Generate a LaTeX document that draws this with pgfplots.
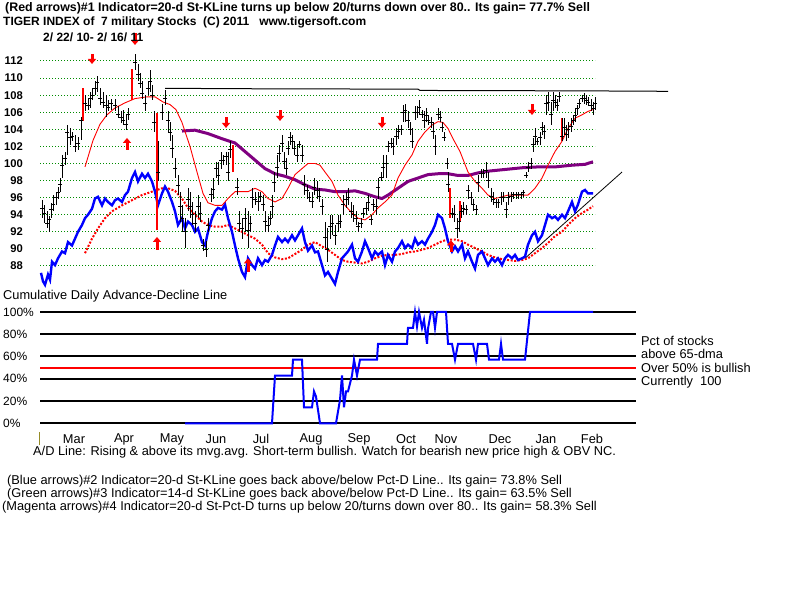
\documentclass[border=0pt]{standalone}
\usepackage{fontspec}
\setmainfont{Liberation Sans}
\usepackage{pgfplots}
\pgfplotsset{compat=1.18}
\usepackage{pgfplotstable}
\usetikzlibrary{arrows.meta}
\definecolor{gridgreen}{RGB}{0,140,0}
\definecolor{purp}{RGB}{128,0,128}
\definecolor{bblue}{RGB}{0,0,255}
\definecolor{olivet}{RGB}{150,140,40}

% price bars: pixel x, low, high, close
\pgfplotstableread{
x l h c
42 93.6 95.7 94.7
44 93.0 95.1 94.2
47 92.4 94.4 93.0
49 92.0 93.9 93.4
51 93.6 95.4 94.6
53 94.4 96.3 95.2
56 95.1 96.7 96.0
58 95.9 97.3 96.6
60 96.7 98.3 97.6
62 98.3 101.0 99.8
65 99.8 101.4 100.6
67 101.0 104.5 103.6
70 102.2 104.1 103.0
72 102.6 103.7 103.2
75 101.4 103.3 102.0
78 101.6 103.1 102.4
81 102.8 105.5 105.0
85 106.1 108.0 107.0
88 106.3 107.6 106.8
90 106.5 108.4 107.6
92 107.4 108.8 108.0
95 108.0 109.6 108.8
97 108.4 110.3 109.5
100 106.8 108.8 107.6
103 106.5 108.4 107.2
106 105.5 108.0 106.8
108 106.1 107.4 106.6
111 106.3 107.6 107.0
115 106.1 107.6 106.8
118 105.3 106.7 105.8
121 104.7 106.1 105.4
123 104.5 106.3 105.0
126 103.9 105.7 104.6
128 105.1 106.5 105.8
135 110.9 112.8 111.8
138 109.6 111.7 110.4
140 108.8 110.6 109.4
142 107.6 109.6 108.2
145 106.1 108.0 107.0
148 108.0 109.6 108.8
150 108.4 110.9 109.6
152 107.4 109.2 108.0
154 103.7 106.1 104.8
158 97.9 102.6 99.0
162 105.1 107.0 106.0
165 106.8 108.6 107.6
168 103.7 106.1 105.0
170 102.6 104.9 103.6
172 100.6 103.3 101.8
175 98.3 100.6 99.4
178 96.3 98.7 97.4
180 93.2 96.7 95.0
182 92.0 95.1 93.6
185 90.1 93.6 92.0
188 94.4 97.1 95.8
190 93.6 96.7 95.0
192 92.8 95.5 94.0
195 92.0 94.4 93.0
198 93.6 96.3 95.0
200 93.2 95.5 94.2
203 89.7 91.2 90.4
206 89.1 90.9 90.0
208 92.0 93.6 92.8
211 95.5 97.1 96.4
213 95.9 98.3 97.0
216 98.3 100.2 99.4
218 97.5 100.2 98.6
221 99.4 101.4 100.4
223 99.8 101.0 100.4
226 99.8 101.4 100.8
228 97.9 101.4 99.0
230 100.6 102.6 101.6
237 96.3 98.3 97.2
239 92.0 94.4 93.0
242 91.2 93.6 92.4
245 92.0 94.8 93.6
248 90.1 94.4 92.2
250 92.0 93.9 93.0
252 94.8 97.1 96.0
255 95.1 96.7 95.8
258 94.4 96.7 95.6
260 95.5 96.7 96.2
263 94.4 96.3 95.2
265 92.0 94.4 93.2
268 92.0 93.9 92.8
270 92.8 94.4 93.6
272 93.6 96.3 95.0
274 96.7 99.0 97.8
277 98.3 101.0 99.6
279 100.2 102.2 101.2
282 101.4 103.3 102.4
284 99.4 101.4 100.2
286 98.7 100.6 99.4
288 101.0 102.6 101.8
290 102.2 103.7 103.0
292 101.8 103.3 102.6
294 101.0 102.6 101.8
297 100.2 102.2 101.0
299 101.8 102.6 102.2
302 100.2 102.2 101.0
304 96.3 98.7 97.6
307 95.9 97.5 96.8
309 95.5 96.7 96.0
312 94.8 96.7 95.6
314 96.3 98.3 97.2
317 95.9 97.9 96.8
319 95.5 97.1 96.2
322 94.0 95.9 95.0
325 90.1 93.2 91.4
327 88.5 92.4 90.0
330 91.2 94.0 92.6
332 91.6 94.0 93.0
335 90.5 92.8 91.6
338 92.0 94.0 93.0
340 92.4 94.0 93.2
343 94.0 96.3 95.2
346 94.8 96.7 95.8
348 95.1 97.1 96.0
351 93.6 95.5 94.4
353 93.2 95.1 94.0
356 92.8 94.4 93.6
358 92.0 93.2 92.6
361 92.4 93.6 93.0
363 93.6 94.8 94.2
366 94.0 95.5 94.8
368 94.4 96.3 95.4
371 92.8 94.0 93.4
373 94.4 95.9 95.2
376 94.0 95.9 95.0
378 95.9 98.3 97.2
381 97.9 99.0 98.4
383 98.3 101.0 99.6
386 98.3 101.0 100.0
388 101.4 102.6 102.0
391 101.8 103.0 102.4
393 101.0 103.0 102.0
396 102.2 104.1 103.2
398 102.9 104.5 103.8
401 103.3 104.5 104.0
403 104.9 106.9 106.0
405 104.9 107.0 106.2
408 104.1 106.1 105.0
410 103.3 104.9 104.0
412 101.8 104.1 102.6
415 105.1 106.7 106.0
417 105.3 106.7 106.0
419 105.7 107.4 106.6
422 105.3 106.3 105.8
424 104.1 106.1 105.0
426 104.9 106.5 105.6
428 104.5 105.7 105.0
431 104.1 105.5 104.8
433 102.9 104.9 103.8
435 101.0 103.3 102.0
438 105.1 106.5 105.8
440 104.9 106.1 105.4
442 103.7 104.9 104.2
444 102.6 103.7 103.0
447 99.4 100.6 100.0
448 96.7 99.0 97.6
452 93.6 94.8 94.2
454 93.2 95.1 94.0
457 91.3 93.6 92.4
459 92.0 94.4 93.2
461 93.6 95.1 94.4
463 94.0 95.5 94.8
466 94.0 95.1 94.6
468 95.9 97.5 96.8
471 95.1 96.7 96.0
473 94.4 95.9 95.2
476 94.0 95.1 94.6
478 96.7 98.7 97.8
481 98.3 99.4 98.8
483 98.3 99.4 98.8
486 98.3 100.2 99.2
488 97.1 99.0 98.0
491 95.5 97.1 96.2
493 95.1 96.7 95.8
496 94.8 95.9 95.4
498 94.8 95.9 95.4
501 95.1 96.7 96.0
503 95.5 96.7 96.0
506 93.6 95.5 94.6
508 95.1 96.7 96.0
511 95.5 96.7 96.2
513 95.9 96.7 96.4
516 95.9 96.7 96.4
518 95.9 96.7 96.4
521 95.9 96.7 96.4
523 96.1 96.9 96.6
526 98.3 99.0 98.6
528 99.0 100.2 99.6
531 99.4 100.6 100.0
533 101.4 103.0 102.2
535 102.2 104.1 103.2
537 102.2 103.0 102.6
540 102.2 103.7 103.0
542 103.3 104.9 104.2
544 102.9 104.5 103.8
546 105.7 108.0 107.0
548 106.1 108.4 107.2
551 104.5 107.2 105.8
553 106.1 108.4 107.4
555 106.5 108.0 107.2
557 106.1 107.6 106.8
559 107.2 108.4 107.8
562 102.6 105.3 103.2
564 103.3 105.3 104.2
566 102.6 104.5 103.4
568 103.0 104.9 104.0
571 103.7 105.3 104.4
573 104.5 105.7 105.0
575 104.9 106.5 105.6
577 105.7 106.9 106.4
579 106.5 107.6 107.0
582 107.2 108.0 107.6
584 107.0 108.2 107.6
586 106.8 108.0 107.4
588 106.7 107.8 107.2
591 106.1 107.6 106.8
593 105.7 107.2 106.4
595 106.3 107.8 107.0
}\bars

\pgfplotstableread{
x y
85 99.6
93 102.7
100 104.6
107 105.7
115 106.5
125 107.1
135 107.6
147 107.8
155 107.8
163 107.2
170 106.9
176 106.3
182 104.8
190 102
197 99
203 96.5
208 95.4
215 95.1
222 95.1
228 95.9
235 96.7
242 96.7
248 96.7
255 97.1
262 96.7
268 95.9
275 95.5
282 95.9
288 97.1
295 98.7
302 99.4
308 100
315 100
320 99.8
325 99
332 97.9
338 96.3
345 95.1
352 94.2
358 93.6
365 93.4
372 94
378 94.8
385 95.5
392 96.3
398 98.3
405 99.8
412 101
418 102.6
425 103.7
432 104.5
438 104.9
443 104.8
448 104.1
453 102.9
460 101.4
468 99
475 97.9
482 97.1
488 96.3
495 95.9
502 96.1
508 96.3
515 96.3
522 96.3
528 96.3
535 97.1
542 98.3
548 99.8
555 101.4
562 102.6
568 104.1
575 105.3
582 105.7
588 106.1
593 106.3
}\redma

\pgfplotstableread{
x y
182 103.8
195 103.9
208 103.5
222 102.9
235 102.4
245 101.4
255 100.4
265 99.4
275 98.8
285 98.5
295 98.1
305 97.5
315 97
325 96.9
335 96.7
345 96.7
355 96.8
365 96.5
375 96.1
382 95.9
388 96.3
398 97.1
408 97.9
418 98.3
428 98.7
438 98.8
448 98.8
458 98.6
468 98.6
478 98.9
488 99.1
505 99.3
522 99.5
538 99.6
555 99.6
572 99.8
585 99.9
593 100.2
}\purpma

\pgfplotstableread{
x y
41 87.2
43 86.2
45 85.8
48 87
50 86.4
52 88.5
55 88.1
58 88.9
62 89.7
65 89.5
68 90.8
72 90.4
75 91.2
78 92
82 92.8
85 93.6
88 94
92 94.7
95 95.9
98 96.1
102 95.1
105 95.9
108 95.5
112 95.1
115 95.7
118 95.9
122 95.5
125 96.3
128 96.7
132 98.3
135 99
138 97.9
142 98.8
145 98.3
148 98.8
152 97.9
155 96.7
158 95.1
162 96.5
165 97.3
168 96.7
172 95.5
175 94.4
178 92.8
182 93.6
185 92.4
188 93.2
192 92.8
195 92
198 92.4
202 90.8
205 90.4
208 92
212 93.6
215 94.4
218 94.8
222 94.6
225 95.2
228 93.6
232 92
235 90.4
238 88.9
242 87.3
245 86.7
248 88.9
252 88.1
255 87.7
258 88.9
262 88.1
265 88.7
268 88.5
272 89.3
275 90.4
278 91.4
282 90.8
285 91.2
288 90.8
292 91.6
295 91
298 91.6
302 92.4
305 90.8
308 89.8
312 90.4
315 89.6
318 89.7
322 88.1
325 86.9
328 87.3
332 86.5
335 85.9
338 87.3
342 88.9
345 89.3
348 89.7
352 90.5
355 88.9
358 88.5
362 89.7
365 90.9
368 90.1
372 88.9
375 89.7
378 89.3
382 89.7
385 88.1
388 89.3
392 88.5
395 89.7
398 90.1
402 90.9
405 90.1
408 90.5
412 90.1
415 91.2
418 90.5
422 90.9
425 90.5
428 91.2
432 92
435 92.8
438 94
442 93.6
445 92.4
448 90.9
452 89.7
455 90.3
458 89.7
462 90.5
465 88.9
468 89.7
472 88.5
475 87.7
478 89.3
482 89.7
485 88.9
488 88.1
492 88.9
495 88.5
498 88.9
502 88.1
505 88.9
508 89.3
512 88.9
515 89.3
518 88.7
522 88.9
525 89.1
528 90.5
532 91.6
535 92
538 90.9
542 91.6
545 92.8
548 94
552 93.6
555 93.8
558 93.4
562 94
565 93.6
568 94.4
572 95.5
575 94.4
578 95.2
582 96.7
585 96.9
588 96.5
593 96.5
}\blueline

\pgfplotstableread{
x y
85 89.5
92 91.2
98 92.4
105 93.6
112 94.4
122 95.1
132 95.7
142 96.3
152 96.7
162 97.1
168 97.1
175 96.8
182 95.9
188 94.8
195 94
202 93.2
208 92.8
215 92.6
222 92.6
228 92.8
235 92.4
242 92
248 91.6
255 91.2
262 90.5
268 89.5
275 89
282 88.8
288 88.9
295 89.4
302 89.9
308 90.5
315 90.8
322 90.3
328 89.9
335 89.3
342 88.7
348 88.5
355 88.4
362 88.3
368 88.5
375 88.9
382 89.2
388 89.3
395 89.3
402 89.4
408 89.6
415 89.7
422 89.9
428 90.1
435 90.5
442 90.9
448 91.1
455 91.1
462 90.9
468 90.5
475 90.1
482 89.7
488 89.3
495 89
502 88.8
508 88.7
515 88.6
522 88.7
528 88.9
535 89.5
542 90.1
548 90.7
555 91.5
562 92
568 92.8
575 93.6
582 94.2
588 94.6
593 95
}\reddot

% signal arrows: x, start, length (price units)
\pgfplotstableread{
x y v
92 112.82 -1.17
135 115.28 -1.41
226 105.44 -1.28
280 106.26 -1.28
382 105.44 -1.28
532 106.97 -1.29
127 101.58 1.41
157 89.9 1.5
248 87.3 1.6
451 89.6 1.4
}\arrowsred

\pgfplotstableread{
x y
185 0
272 0
275 42.9
292 42.9
293 57.1
302 57.1
304 14.3
312 14.3
314 28.6
316 24
320 0
336 0
340 21
342 42.9
344 14.3
346 28.6
348 28.6
352 42.9
354 57.1
357 42.9
360 57.1
377 57.1
378 71.4
407 71.4
408 85.7
413 85.7
415 100
417 87
419 100
422 85.7
424 93
427 71.4
428 85
431 100
433 100
435 85.7
437 100
446 100
448 71.4
452 71.4
455 57.1
458 71.4
473 71.4
476 57.1
478 71.4
487 71.4
489 57.1
499 57.1
501 71.4
503 57.1
525 57.1
530 100
593 100
}\adline

\begin{document}
\begin{tikzpicture}[x=1pt,y=1pt]
\useasboundingbox (0,0) rectangle (800,600);
\fill[white] (0,0) rectangle (800,600);
\pgfplotsset{base/.style={at={(0pt,0pt)}, anchor=south west, width=800pt, height=600pt,
  scale only axis, xmin=0, xmax=800, clip=false, axis line style={draw=none},
  xtick=\empty, major tick length=0pt, tick style={draw=none}}}

% ---------------- price panel ----------------
\begin{axis}[base, ymin=48.90, ymax=119.14, ytick={88,90,...,112},
  yticklabel style={anchor=east, inner sep=0pt, xshift=23pt, font=\bfseries\fontsize{11.2}{12}\selectfont},
  /pgf/number format/assume math mode=true]
\pgfplotsinvokeforeach{88,90,...,112}{
  \addplot[gridgreen, line width=1pt, dash pattern=on 1pt off 2pt, forget plot] coordinates {(40,#1) (595,#1)};
}
% resistance and trend lines
\addplot[black, line width=1pt] coordinates {(165,108.8) (250,108.75) (418,108.7) (420,108.55) (586,108.5) (668,108.45)};
\addplot[black, line width=0.8pt] coordinates {(525,88.9) (622,99.0)};
% moving averages
\addplot[purp, line width=3pt] table[x=x,y=y] {\purpma};
\addplot[red, line width=2pt, dash pattern=on 2pt off 1.6pt] table[x=x,y=y] {\reddot};
\addplot[bblue, line width=2.4pt] table[x=x,y=y] {\blueline};
\addplot[red, line width=0.9pt] table[x=x,y=y] {\redma};
% red signal bars
\addplot[red, line width=1.2pt] coordinates {(83,105) (83,108.8)};
\addplot[red, line width=1.2pt] coordinates {(132,107.4) (132,111.1)};
\addplot[red, line width=1.2pt] coordinates {(157,92.2) (157,105.9)};
\addplot[red, line width=1.2pt] coordinates {(233,99) (233,102.2)};
\addplot[red, line width=1.2pt] coordinates {(450,93.6) (450,97.1)};
\addplot[red, line width=1.2pt] coordinates {(460,93.2) (460,95.6)};
\addplot[red, line width=1.2pt] coordinates {(562,102.6) (562,105.3)};
% price bars
\addplot[black, only marks, mark=-, mark size=2pt, mark options={line width=0.8pt},
  error bars/.cd, y dir=both, y explicit, error mark=none,
  error bar style={line width=1pt, black}]
  table[x=x, y=c, y error plus expr=\thisrow{h}-\thisrow{c}, y error minus expr=\thisrow{c}-\thisrow{l}] {\bars};
% arrows
\addplot[red, line width=3pt, -{Triangle[width=8pt,length=5pt]},
  quiver={u=0, v=\thisrow{v}}] table[x=x,y=y] {\arrowsred};
\end{axis}

% ---------------- A/D panel ----------------
\begin{axis}[base, ymin=-158.8, ymax=380.3, ytick={0,20,...,100},
  yticklabels={0\%,20\%,40\%,60\%,80\%,100\%},
  yticklabel style={anchor=west, inner sep=0pt, xshift=3pt, font=\fontsize{12}{13}\selectfont}]
\pgfplotsinvokeforeach{0,20,...,100}{
  \addplot[black, line width=2pt, forget plot] coordinates {(40,#1) (636,#1)};
}
\addplot[red, line width=2pt] coordinates {(40,50) (636,50)};
\addplot[bblue, line width=2pt] table[x=x,y=y] {\adline};
\end{axis}

% ---------------- texts ----------------
\tikzset{t/.style={anchor=west, inner sep=0pt, font=\fontsize{12.8}{14}\selectfont}}
\tikzset{tb/.style={anchor=west, inner sep=0pt, font=\bfseries\fontsize{12}{14}\selectfont}}
\node[tb, font=\bfseries\fontsize{12.4}{14}\selectfont] at (5,592) {(Red arrows)\#1 Indicator=20-d St-KLine turns up below 20/turns down over 80.. Its gain= 77.7\% Sell};
\node[tb] at (3,578) {TIGER INDEX of~~7 military Stocks~~(C) 2011~~~www.tigersoft.com};
\node[tb] at (43,563) {2/ 22/ 10- 2/ 16/ 11};
\node[t] at (3,304) {Cumulative Daily Advance-Decline Line};
\node[t] at (641,259) {Pct of stocks};
\node[t] at (641,246) {above 65-dma};
\node[t] at (641,232) {Over 50\% is bullish};
\node[t] at (641,218) {Currently~~100};
\foreach \m/\xx in {Mar/74,Apr/124,May/172,Jun/216,Jul/261,Aug/311,Sep/359,Oct/406,Nov/446,Dec/500,Jan/546,Feb/592}
  \node[inner sep=0pt, font=\fontsize{12.8}{14}\selectfont] at (\xx,161) {\m};
\draw[olivet, line width=1pt] (39,155) -- (39,168);
\node[t] at (33,148) {A/D Line: Rising \& above its mvg.avg. Short-term bullish. Watch for bearish new price high \& OBV NC.};
\node[t] at (7,119) {(Blue arrows)\#2 Indicator=20-d St-KLine goes back above/below Pct-D Line.. Its gain= 73.8\% Sell};
\node[t] at (7,106) {(Green arrows)\#3 Indicator=14-d St-KLine goes back above/below Pct-D Line.. Its gain= 63.5\% Sell};
\node[t] at (2,93) {(Magenta arrows)\#4 Indicator=20-d St-Pct-D turns up below 20/turns down over 80.. Its gain= 58.3\% Sell};
\end{tikzpicture}
\end{document}
